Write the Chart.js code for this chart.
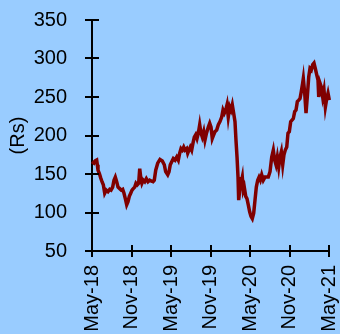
<!DOCTYPE html>
<html>
<head>
<meta charset="utf-8">
<script src="https://cdn.jsdelivr.net/npm/chart.js@4.4.1/dist/chart.umd.min.js"></script>
<style>
  html, body { margin: 0; padding: 0; background: #99CCFF; }
  #wrap { width: 340px; height: 334px; position: relative; }
</style>
</head>
<body>
<div id="wrap"><canvas id="c"></canvas></div>
<script>
// Share price (Rs), x = months elapsed since May-18
const monthOffsets = [
  0, 0.30, 0.50, 0.71, 0.81, 0.91, 1.11, 1.32, 1.52, 1.72, 1.93, 2.17, 2.43, 2.69, 2.89,
  3.14, 3.34, 3.54, 3.75, 3.95, 4.21, 4.45, 4.66, 4.86, 5.06, 5.27, 5.47, 5.67, 5.88,
  6.08, 6.27, 6.49, 6.68, 6.88, 7.09, 7.25, 7.40, 7.59, 7.79, 8.01, 8.25, 8.51, 8.76,
  8.96, 9.27, 9.46, 9.68, 9.98, 10.33, 10.68, 10.98, 11.19, 11.50, 11.70, 11.89,
  12.11, 12.35, 12.61, 12.87, 13.11, 13.32, 13.52, 13.72, 13.93, 14.13, 14.38, 14.54,
  14.73, 14.93, 15.14, 15.34, 15.54, 15.75, 15.95, 16.15, 16.36, 16.56, 16.75, 16.97,
  17.16, 17.39, 17.67, 17.88, 18.08, 18.27, 18.49, 18.68, 18.94, 19.19, 19.44, 19.70,
  19.90, 20.10, 20.31, 20.51, 20.70, 20.92, 21.11, 21.31, 21.52, 21.72, 21.87, 22.03,
  22.18, 22.28, 22.44, 22.63, 22.83, 22.98, 23.13, 23.35, 23.54, 23.74, 23.95, 24.15,
  24.35, 24.56, 24.76, 24.96, 25.17, 25.37, 25.57, 25.78, 26.02, 26.28, 26.78, 27.04,
  27.30, 27.54, 27.75, 27.95, 28.15, 28.36, 28.56, 28.76, 28.97, 29.16, 29.36, 29.58,
  29.77, 29.97, 30.18, 30.38, 30.58, 30.79, 30.99, 31.19, 31.40, 31.60, 31.79, 32.00,
  32.10, 32.31, 32.51, 32.70, 32.92, 33.11, 33.31, 33.53, 33.72, 33.92, 34.13, 34.33,
  34.44, 34.63, 34.83, 35.04, 35.24, 35.45, 35.66, 35.85, 36.05, 36.26, 36.45
];
const prices = [
  166, 164, 167, 168, 162, 155, 151, 145, 140, 136, 125, 129, 127, 130, 129,
  133, 142, 146, 140, 133, 131, 129, 130, 125, 118, 110, 114, 121, 125,
  129, 131, 133, 138, 136, 138, 157, 146, 138, 142, 140, 144, 140, 142,
  141, 140, 142, 155, 164, 169, 167, 162, 153, 149, 153, 162,
  166, 170, 168, 172, 168, 177, 183, 181, 185, 181, 183, 177,
  181, 185, 181, 190, 198, 201, 196, 203, 214, 203, 198, 205,
  194, 203, 211, 216, 211, 196, 201, 205, 207, 214, 218, 224,
  233, 229, 233, 240, 224, 237, 233, 240, 229, 218, 194, 172,
  146, 116, 129, 138, 146, 129, 133, 121, 118, 110, 101, 95,
  92, 99, 116, 133, 142, 146, 142, 149, 142, 146, 146, 153,
  172, 181, 168, 162, 172, 159, 172, 179, 162, 175, 181, 185,
  203, 205, 218, 220, 222, 231, 233, 244, 246, 248, 257, 268,
  274, 255, 229, 250, 276, 287, 285, 292, 294, 287, 279, 272,
  250, 268, 263, 250, 259, 237, 248, 255, 246, 246, 243
];
const tickLabels = ['May-18', 'Nov-18', 'May-19', 'Nov-19', 'May-20', 'Nov-20', 'May-21'];
const tickStepMonths = 6;
const yTicks = [50, 100, 150, 200, 250, 300, 350];

const points = monthOffsets.map((m, i) => ({ x: m, y: prices[i] }));

// Short tick marks that cross each axis line
const crossTicks = {
  id: 'crossTicks',
  afterDraw(chart) {
    const ctx = chart.ctx;
    const xs = chart.scales.x, ys = chart.scales.y;
    const half = 7;
    ctx.save();
    ctx.strokeStyle = '#000';
    ctx.lineWidth = 2;
    ctx.beginPath();
    ys.ticks.forEach(t => {
      const py = Math.round(ys.getPixelForValue(t.value));
      ctx.moveTo(xs.left - half, py);
      ctx.lineTo(xs.left + half, py);
    });
    xs.ticks.forEach(t => {
      const px = Math.round(xs.getPixelForValue(t.value));
      ctx.moveTo(px, ys.bottom - half + 1);
      ctx.lineTo(px, ys.bottom + half - 1);
    });
    ctx.stroke();
    ctx.restore();
  }
};

Chart.defaults.font.family = '"Liberation Sans", Arial, sans-serif';
Chart.defaults.color = '#000';

new Chart(document.getElementById('c'), {
  type: 'line',
  data: {
    datasets: [{
      data: points,
      borderColor: '#800000',
      borderWidth: 3.5,
      pointRadius: 0,
      tension: 0,
      clip: false
    }]
  },
  options: {
    responsive: true,
    maintainAspectRatio: false,
    animation: false,
    layout: { padding: { top: 20, right: 11, left: 0, bottom: 0 } },
    plugins: { legend: { display: false }, tooltip: { enabled: false } },
    scales: {
      x: {
        type: 'linear',
        min: 0,
        max: 36,
        afterBuildTicks(scale) {
          scale.ticks = tickLabels.map((_, i) => ({ value: i * tickStepMonths }));
        },
        afterFit(scale) {
          scale.height = 83;
          scale.paddingLeft = 0;
          scale.paddingRight = 0;
        },
        ticks: {
          autoSkip: false,
          maxRotation: 90,
          minRotation: 90,
          padding: 14,
          font: { size: 20 },
          callback: (v) => tickLabels[Math.round(v / tickStepMonths)]
        },
        grid: { display: true, drawOnChartArea: false, drawTicks: false },
        border: { display: true, color: '#000', width: 2 }
      },
      y: {
        min: 50,
        max: 350,
        afterBuildTicks(scale) {
          scale.ticks = yTicks.map(v => ({ value: v }));
        },
        afterFit(scale) {
          scale.width = 92;
          scale.paddingTop = 0;
          scale.paddingBottom = 0;
        },
        ticks: { padding: 25, font: { size: 20 } },
        title: { display: true, text: '(Rs)', font: { size: 20 }, padding: { top: 6, bottom: 0 } },
        grid: { display: true, drawOnChartArea: false, drawTicks: false },
        border: { display: true, color: '#000', width: 2 }
      }
    }
  },
  plugins: [crossTicks]
});
</script>
</body>
</html>
